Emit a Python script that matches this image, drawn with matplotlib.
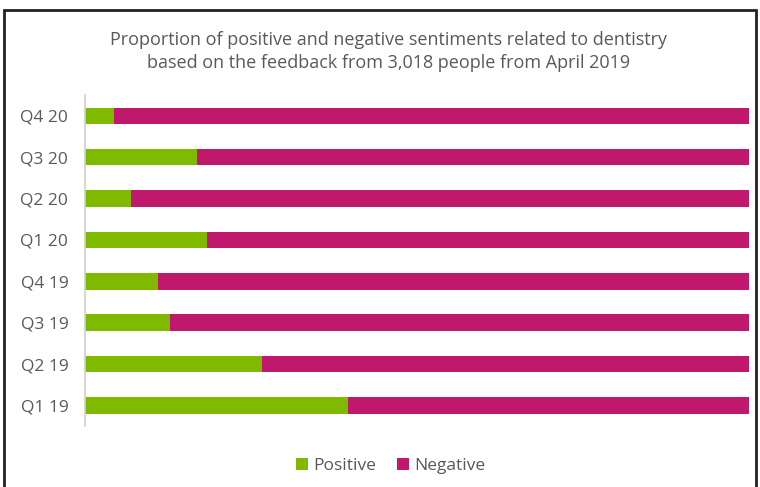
import matplotlib

matplotlib.use("Agg")
import matplotlib.pyplot as plt
from matplotlib.patches import Rectangle

quarters = ["Q1 19", "Q2 19", "Q3 19", "Q4 19", "Q1 20", "Q2 20", "Q3 20", "Q4 20"]
positive = [39.6, 26.7, 12.8, 11.0, 18.3, 6.9, 16.9, 4.4]
negative = [100 - p for p in positive]

GREEN = "#7fba00"
MAGENTA = "#c0186c"
TEXT = "#595959"

plt.rcParams["font.family"] = ["Open Sans", "DejaVu Sans"]

fig = plt.figure(figsize=(7.6, 4.87), dpi=100)
ax = fig.add_axes([85 / 760, 1 - 426.2 / 487, 664 / 760, (426.2 - 95.1) / 487])

y = range(len(quarters))
ax.barh(y, positive, height=0.4, color=GREEN, label="Positive")
ax.barh(y, negative, left=positive, height=0.4, color=MAGENTA, label="Negative")

ax.set_xlim(0, 100)
ax.set_ylim(-0.5, 7.5)
ax.set_yticks(list(y))
ax.set_yticklabels(quarters, fontsize=12.5, color=TEXT)
ax.tick_params(axis="y", length=0, pad=12)
ax.set_xticks([])
for side in ["top", "right", "bottom"]:
    ax.spines[side].set_visible(False)
ax.spines["left"].set_color("#d0d0d0")
ax.spines["left"].set_linewidth(1.2)

fig.text(389 / 760, 1 - 51.5 / 487,
         "Proportion of positive and negative sentiments related to dentistry\n"
         "based on the feedback from 3,018 people from April 2019",
         ha="center", va="center", fontsize=13, color=TEXT, linespacing=1.35)

fig.legend(loc="center", bbox_to_anchor=(391 / 760, 1 - 466 / 487), ncol=2, frameon=False,
           fontsize=12.5, labelcolor=TEXT, handlelength=0.7, handleheight=0.7,
           handletextpad=0.3, columnspacing=1.2)

fig.patches.append(Rectangle((4 / 760, -0.05), 752 / 760, 1.05 - 10 / 487, transform=fig.transFigure,
                             fill=False, edgecolor="#222222", linewidth=2))

fig.savefig("out.png", dpi=100)
plt.close(fig)
